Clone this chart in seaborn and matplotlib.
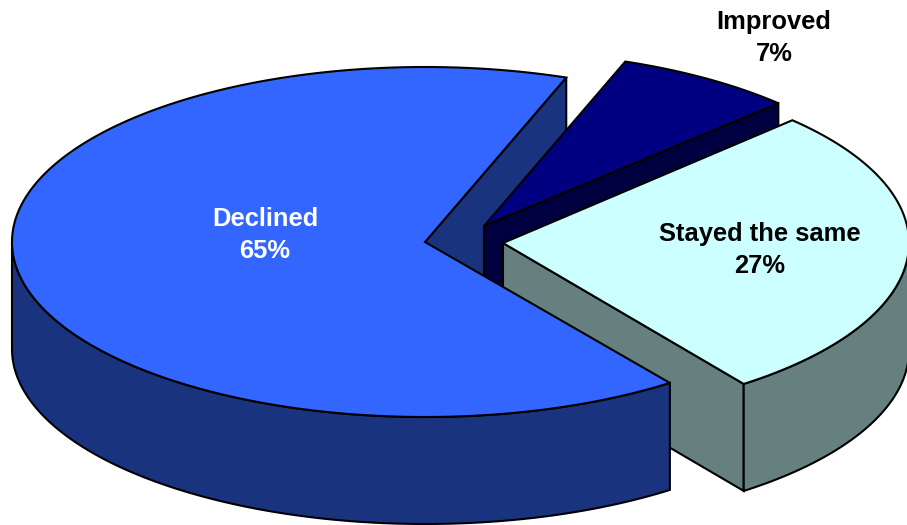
import numpy as np
import seaborn as sns
import matplotlib.pyplot as plt

categories = ['Declined', 'Stayed the same', 'Improved']
shares = [65, 27, 7]

top_colors = sns.color_palette(['#3366ff', '#ccffff', '#000080'])
side_colors = sns.color_palette(['#1a337f', '#668080', '#000040'])
text_colors = ['white', 'black', 'black']

# exploded slice centres and label spots, in image pixels
centres = [(425, 242), (503, 243), (484, 226)]
label_spots = [(265, 235), (760, 250), (774, 38)]
radii = [413, 406, 413]
ry, depth = 175, 107
start_angle = 70

sns.set_theme(style='white')
plt.rcParams['font.family'] = ['Liberation Sans', 'DejaVu Sans']

fig, ax = plt.subplots(figsize=(9.07, 5.25), dpi=100)
ax.set_position([0, 0, 1, 1])
ax.set_xlim(0, 907)
ax.set_ylim(525, 0)
ax.axis('off')

# slice angles, going anticlockwise round the pie
spans = np.array(shares) / sum(shares) * 360
ends = start_angle + np.cumsum(spans)
starts = ends - spans


def rim(i, t0, t1):
    t = np.radians(np.linspace(t0, t1, 200))
    cx, cy = centres[i]
    return cx + radii[i] * np.cos(t), cy - ry * np.sin(t)


def draw(x, y, color):
    ax.fill(x, y, facecolor=color, edgecolor='black', linewidth=1.5,
            joinstyle='miter')


def radial_wall(i, angle):
    cx, cy = centres[i]
    x, y = rim(i, angle, angle)
    draw([cx, x[0], x[0], cx], [cy, y[0], y[0] + depth, cy + depth], side_colors[i])


def outer_wall(i, t0, t1):
    x, y = rim(i, t0, t1)
    draw(np.r_[x, x[::-1]], np.r_[y, y[::-1] + depth], side_colors[i])


def top(i):
    x, y = rim(i, starts[i], ends[i])
    cx, cy = centres[i]
    draw(np.r_[cx, x], np.r_[cy, y], top_colors[i])


# back to front
radial_wall(0, starts[0])
radial_wall(2, starts[2])
top(2)
radial_wall(1, starts[1])
outer_wall(1, starts[1], 360)
top(1)
outer_wall(0, 180, ends[0])
top(0)

for i, cat in enumerate(categories):
    ax.text(label_spots[i][0], label_spots[i][1], f'{cat}\n{shares[i]}%',
            color=text_colors[i], fontsize=18.4, fontweight='bold',
            ha='center', va='center', linespacing=1.47)

fig.savefig('out.png', dpi=100)
